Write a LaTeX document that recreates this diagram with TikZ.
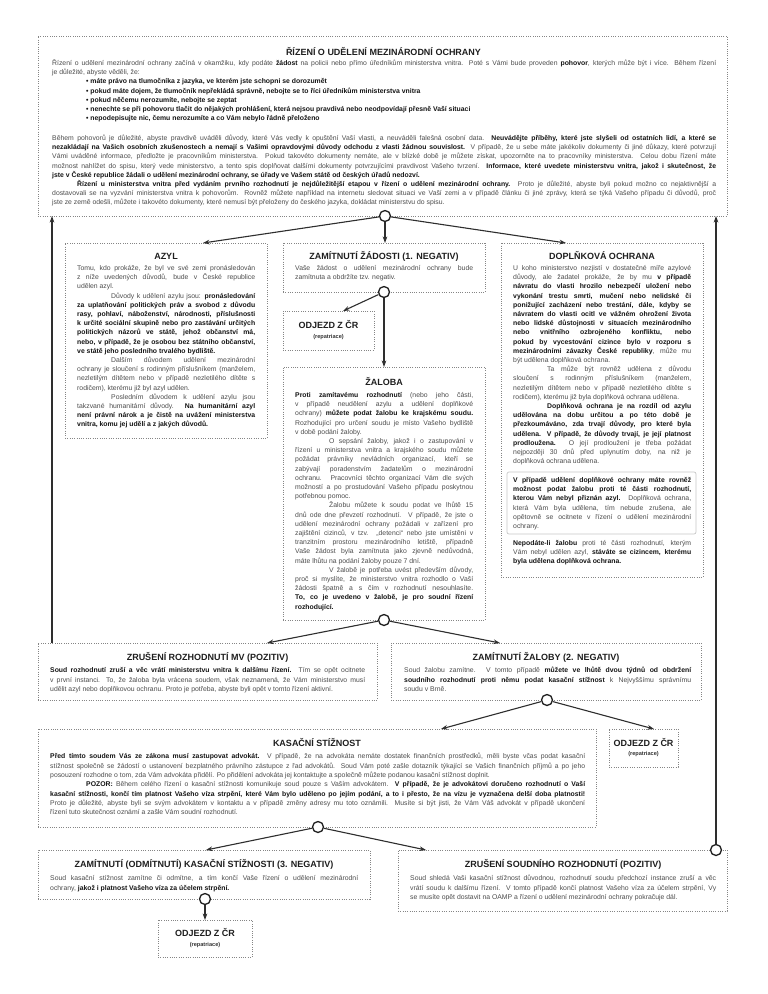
\documentclass[tikz,border=0pt]{standalone}
\usepackage{fontspec}
\setmainfont{Liberation Sans}
\usepackage{graphicx}
\usetikzlibrary{arrows.meta}
\newsavebox\jlbox
\newcommand\JL[1]{\sbox\jlbox{#1}\ifdim\wd\jlbox>\linewidth\noindent\resizebox{\linewidth}{\height}{\usebox\jlbox}\else\noindent\makebox[\linewidth][s]{#1}\fi\par}
\newcommand\LL[1]{\sbox\jlbox{#1}\ifdim\wd\jlbox>\linewidth\noindent\resizebox{\linewidth}{\height}{\usebox\jlbox}\else\noindent\usebox\jlbox\fi\par}
\newcommand\B[1]{{\bfseries\color{black!92}#1}}
\newcommand\IN{\hspace*{34pt}}
\newcommand\bodyfont{\fontsize{6.85}{9.2}\selectfont}
\newcommand\blk[2]{\parbox[t]{#1}{\bodyfont\setlength\parskip{0pt}\setlength\parindent{0pt}#2}}
\newcommand\blkn[2]{\parbox[t]{#1}{\fontsize{6.85}{9.3}\selectfont\setlength\parskip{0pt}\setlength\parindent{0pt}#2}}
\tikzset{
  dbox/.style={draw=black!48, dash pattern=on 0.9pt off 1.4pt, line width=0.9pt, rectangle, inner sep=0pt},
  ttl/.style={font=\fontsize{9}{10}\selectfont\bfseries, text=black!88, inner sep=0pt, anchor=base},
  rep/.style={font=\fontsize{5.6}{6}\selectfont\bfseries, text=black!80, inner sep=0pt, anchor=base},
  txt/.style={inner sep=0pt, anchor=base west, text=black!70},
  dot/.style={circle, draw=black!88, fill=white, line width=1.3pt, minimum size=11pt, inner sep=0pt},
  arr/.style={draw=black!82, line width=1.1pt, -{Stealth[length=6.5pt,width=4.6pt]}},
}
\begin{document}
\begin{tikzpicture}[x=1pt,y=-1pt]
\useasboundingbox (0,0) rectangle (768,994);
\fill[white] (0,0) rectangle (768,994);

% ---------- boxes ----------
\node[dbox, minimum width=689pt, minimum height=180pt] (top) at (382.5,126) {};
\node[dbox, minimum width=202pt, minimum height=195pt] (azyl) at (166,340.5) {};
\node[dbox, minimum width=202pt, minimum height=49pt] (zam1) at (384,267.5) {};
\node[dbox, minimum width=91pt, minimum height=39pt] (odj1) at (328.5,330.5) {};
\node[dbox, minimum width=202pt, minimum height=253pt] (zaloba) at (384,493.5) {};
\node[dbox, minimum width=202pt, minimum height=334pt] (dopl) at (602,410) {};
\node[draw=black!22, line width=0.7pt, rounded corners=2pt, minimum width=189pt, minimum height=62pt, inner sep=0pt] (inner) at (601.5,503) {};
\node[dbox, minimum width=339pt, minimum height=57pt] (zrusmv) at (207.5,671.5) {};
\node[dbox, minimum width=310pt, minimum height=57pt] (zam2) at (546,671.5) {};
\node[dbox, minimum width=558pt, minimum height=98pt] (kas) at (317,778) {};
\node[dbox, minimum width=69pt, minimum height=38pt] (odj2) at (643.5,748) {};
\node[dbox, minimum width=332pt, minimum height=49pt] (zam3) at (204,874.5) {};
\node[dbox, minimum width=329pt, minimum height=61pt] (zruss) at (562.5,880.5) {};
\node[dbox, minimum width=94pt, minimum height=37pt] (odj3) at (205,938.5) {};

% ---------- top box ----------
\node[ttl] (topT) at (383.5,55.2) {ŘÍZENÍ O UDĚLENÍ MEZINÁRODNÍ OCHRANY};
\node[txt] (topP1) at (52,65.5) {\blk{664pt}{%
\JL{Řízení o udělení mezinárodní ochrany začíná v okamžiku, kdy podáte \B{žádost} na policii nebo přímo úředníkům ministerstva vnitra. Poté s Vámi bude proveden \B{pohovor}, kterých může být i více. Během řízení}
\LL{je důležité, abyste věděli, že:}
\LL{\hspace*{34pt}\B{• máte právo na tlumočníka z jazyka, ve kterém jste schopni se dorozumět}}
\LL{\hspace*{34pt}\B{• pokud máte dojem, že tlumočník nepřekládá správně, nebojte se to říci úředníkům ministerstva vnitra}}
\LL{\hspace*{34pt}\B{• pokud něčemu nerozumíte, nebojte se zeptat}}
\LL{\hspace*{34pt}\B{• nenechte se při pohovoru tlačit do nějakých prohlášení, která nejsou pravdivá nebo neodpovídají přesně Vaší situaci}}
\LL{\hspace*{34pt}\B{• nepodepisujte nic, čemu nerozumíte a co Vám nebylo řádně přeloženo}}
}};
\node[txt] (topP2) at (52,140.5) {\blk{664pt}{%
\JL{Během pohovorů je důležité, abyste pravdivě uváděli důvody, které Vás vedly k opuštění Vaší vlasti, a neuváděli falešná osobní data. \B{Neuvádějte příběhy, které jste slyšeli od ostatních lidí, a které se}}
\JL{\B{nezakládají na Vašich osobních zkušenostech a nemají s Vašimi opravdovými důvody odchodu z vlasti žádnou souvislost.} V případě, že u sebe máte jakékoliv dokumenty či jiné důkazy, které potvrzují}
\JL{Vámi uváděné informace, předložte je pracovníkům ministerstva. Pokud takovéto dokumenty nemáte, ale v blízké době je můžete získat, upozorněte na to pracovníky ministerstva. Celou dobu řízení máte}
\JL{možnost nahlížet do spisu, který vede ministerstvo, a tento spis doplňovat dalšími dokumenty potvrzujícími pravdivost Vašeho tvrzení. \B{Informace, které uvedete ministerstvu vnitra, jakož i skutečnost, že}}
\LL{\B{jste v České republice žádali o udělení mezinárodní ochrany, se úřady ve Vašem státě od českých úřadů nedozví.}}
\JL{\hspace*{25pt}\B{Řízení u ministerstva vnitra před vydáním prvního rozhodnutí je nejdůležitější etapou v řízení o udělení mezinárodní ochrany.} Proto je důležité, abyste byli pokud možno co nejaktivnější a}
\JL{dostavovali se na vyzvání ministerstva vnitra k pohovorům. Rovněž můžete například na internetu sledovat situaci ve Vaší zemi a v případě článku či jiné zprávy, která se týká Vašeho případu či důvodů, proč}
\LL{jste ze země odešli, můžete i takovéto dokumenty, které nemusí být přeloženy do českého jazyka, dokládat ministerstvu do spisu.}
}};

% ---------- AZYL ----------
\node[ttl] (azylT) at (166,259.2) {AZYL};
\node[txt] (azylP) at (77,270.5) {\blk{178pt}{%
\JL{Tomu, kdo prokáže, že byl ve své zemi pronásledován}
\JL{z níže uvedených důvodů, bude v České republice}
\LL{udělen azyl.}
\JL{\IN Důvody k udělení azylu jsou: \B{pronásledování}}
\JL{\B{za uplatňování politických práv a svobod z důvodu}}
\JL{\B{rasy, pohlaví, náboženství, národnosti, příslušnosti}}
\JL{\B{k určité sociální skupině nebo pro zastávání určitých}}
\JL{\B{politických názorů ve státě, jehož občanství má,}}
\JL{\B{nebo, v případě, že je osobou bez státního občanství,}}
\LL{\B{ve státě jeho posledního trvalého bydliště.}}
\JL{\IN Dalším důvodem udělení mezinárodní}
\JL{ochrany je sloučení s rodinným příslušníkem (manželem,}
\JL{nezletilým dítětem nebo v případě nezletilého dítěte s}
\LL{rodičem), kterému již byl azyl udělen.}
\JL{\IN Posledním důvodem k udělení azylu jsou}
\JL{takzvané humanitární důvody. \B{Na humanitární azyl}}
\JL{\B{není právní nárok a je čistě na uvážení ministerstva}}
\LL{\B{vnitra, komu jej udělí a z jakých důvodů.}}
}};

% ---------- ZAMITNUTI ZADOSTI ----------
\node[ttl] (zam1T) at (384,259.2) {ZAMÍTNUTÍ ŽÁDOSTI (1. NEGATIV)};
\node[txt] (zam1P) at (295,270.5) {\blk{178pt}{%
\JL{Vaše žádost o udělení mezinárodní ochrany bude}
\LL{zamítnuta a obdržíte tzv. negativ.}
}};

% ---------- ODJEZD 1 ----------
\node[ttl] (odj1T) at (328.5,328.2) {ODJEZD Z ČR};
\node[rep] (odj1R) at (328.5,338.5) {(repatriace)};

% ---------- ZALOBA ----------
\node[ttl] (zalT) at (384,385.2) {ŽALOBA};
\node[txt] (zalP) at (295,397.5) {\blk{178pt}{%
\JL{\B{Proti zamítavému rozhodnutí} (nebo jeho části,}
\JL{v případě neudělení azylu a udělení doplňkové}
\JL{ochrany) \B{můžete podat žalobu ke krajskému soudu.}}
\JL{Rozhodující pro určení soudu je místo Vašeho bydliště}
\LL{v době podání žaloby.}
\JL{\IN O sepsání žaloby, jakož i o zastupování v}
\JL{řízení u ministerstva vnitra a krajského soudu můžete}
\JL{požádat právníky nevládních organizací, kteří se}
\JL{zabývají poradenstvím žadatelům o mezinárodní}
\JL{ochranu. Pracovníci těchto organizací Vám dle svých}
\JL{možností a po prostudování Vašeho případu poskytnou}
\LL{potřebnou pomoc.}
\JL{\IN Žalobu můžete k soudu podat ve lhůtě 15}
\JL{dnů ode dne převzetí rozhodnutí. V případě, že jste o}
\JL{udělení mezinárodní ochrany požádali v zařízení pro}
\JL{zajištění cizinců, v tzv. „detenci“ nebo jste umístěni v}
\JL{tranzitním prostoru mezinárodního letiště, případně}
\JL{Vaše žádost byla zamítnuta jako zjevně nedůvodná,}
\LL{máte lhůtu na podání žaloby pouze 7 dní.}
\JL{\IN V žalobě je potřeba uvést především důvody,}
\JL{proč si myslíte, že ministerstvo vnitra rozhodlo o Vaší}
\JL{žádosti špatně a s čím v rozhodnutí nesouhlasíte.}
\JL{\B{To, co je uvedeno v žalobě, je pro soudní řízení}}
\LL{\B{rozhodující.}}
}};

% ---------- DOPLNKOVA OCHRANA ----------
\node[ttl] (doplT) at (602,259.2) {DOPLŇKOVÁ OCHRANA};
\node[txt] (doplP) at (513,270.5) {\blk{178pt}{%
\JL{U koho ministerstvo nezjistí v dostatečné míře azylové}
\JL{důvody, ale žadatel prokáže, že by mu \B{v případě}}
\JL{\B{návratu do vlasti hrozilo nebezpečí uložení nebo}}
\JL{\B{vykonání trestu smrti, mučení nebo nelidské či}}
\JL{\B{ponižující zacházení nebo trestání, dále, kdyby se}}
\JL{\B{návratem do vlasti ocitl ve vážném ohrožení života}}
\JL{\B{nebo lidské důstojnosti v situacích mezinárodního}}
\JL{\B{nebo vnitřního ozbrojeného konfliktu, nebo}}
\JL{\B{pokud by vycestování cizince bylo v rozporu s}}
\JL{\B{mezinárodními závazky České republiky}, může mu}
\LL{být udělena doplňková ochrana.}
\JL{\IN Ta může být rovněž udělena z důvodu}
\JL{sloučení s rodinným příslušníkem (manželem,}
\JL{nezletilým dítětem nebo v případě nezletilého dítěte s}
\LL{rodičem), kterému již byla doplňková ochrana udělena.}
\JL{\IN\B{Doplňková ochrana je na rozdíl od azylu}}
\JL{\B{udělována na dobu určitou a po této době je}}
\JL{\B{přezkoumáváno, zda trvají důvody, pro které byla}}
\JL{\B{udělena. V případě, že důvody trvají, je její platnost}}
\JL{\B{prodloužena.} O její prodloužení je třeba požádat}
\JL{nejpozději 30 dnů před uplynutím doby, na niž je}
\LL{doplňková ochrana udělena.}
}};
\node[txt] (innerP) at (513,482.5) {\blk{178pt}{%
\JL{\B{V případě udělení doplňkové ochrany máte rovněž}}
\JL{\B{možnost podat žalobu proti té části rozhodnutí,}}
\JL{\B{kterou Vám nebyl přiznán azyl.} Doplňková ochrana,}
\JL{která Vám byla udělena, tím nebude zrušena, ale}
\JL{opětovně se ocitnete v řízení o udělení mezinárodní}
\LL{ochrany.}
}};
\node[txt] (doplQ) at (513,545.5) {\blk{178pt}{%
\JL{\B{Nepodáte-li žalobu} proti té části rozhodnutí, kterým}
\JL{Vám nebyl udělen azyl, \B{stáváte se cizincem, kterému}}
\LL{\B{byla udělena doplňková ochrana.}}
}};

% ---------- ZRUSENI ROZHODNUTI MV ----------
\node[ttl] (zrusmvT) at (207.5,660.2) {ZRUŠENÍ ROZHODNUTÍ MV (POZITIV)};
\node[txt] (zrusmvP) at (50,672.8) {\blkn{315pt}{%
\JL{\B{Soud rozhodnutí zruší a věc vrátí ministerstvu vnitra k dalšímu řízení.} Tím se opět ocitnete}
\JL{v první instanci. To, že žaloba byla vrácena soudem, však neznamená, že Vám ministerstvo musí}
\LL{udělit azyl nebo doplňkovou ochranu. Proto je potřeba, abyste byli opět v tomto řízení aktivní.}
}};

% ---------- ZAMITNUTI ZALOBY ----------
\node[ttl] (zam2T) at (546,660.2) {ZAMÍTNUTÍ ŽALOBY (2. NEGATIV)};
\node[txt] (zam2P) at (404,672.8) {\blkn{287pt}{%
\JL{Soud žalobu zamítne. V tomto případě \B{můžete ve lhůtě dvou týdnů od obdržení}}
\JL{\B{soudního rozhodnutí proti němu podat kasační stížnost} k Nejvyššímu správnímu}
\LL{soudu v Brně.}
}};

% ---------- KASACNI STIZNOST ----------
\node[ttl] (kasT) at (317,746.2) {KASAČNÍ STÍŽNOST};
\node[txt] (kasP) at (50,758.8) {\blkn{535pt}{%
\JL{\B{Před tímto soudem Vás ze zákona musí zastupovat advokát.} V případě, že na advokáta nemáte dostatek finančních prostředků, měli byste včas podat kasační}
\JL{stížnost společně se žádostí o ustanovení bezplatného právního zástupce z řad advokátů. Soud Vám poté zašle dotazník týkající se Vašich finančních příjmů a po jeho}
\LL{posouzení rozhodne o tom, zda Vám advokáta přidělí. Po přidělení advokáta jej kontaktujte a společně můžete podanou kasační stížnost doplnit.}
\JL{\hspace*{36pt}\B{POZOR:} Během celého řízení o kasační stížnosti komunikuje soud pouze s Vaším advokátem. \B{V případě, že je advokátovi doručeno rozhodnutí o Vaší}}
\JL{\B{kasační stížnosti, končí tím platnost Vašeho víza strpění, které Vám bylo uděleno po jejím podání, a to i přesto, že na vízu je vyznačena delší doba platnosti!}}
\JL{Proto je důležité, abyste byli se svým advokátem v kontaktu a v případě změny adresy mu toto oznámili. Musíte si být jisti, že Vám Váš advokát v případě ukončení}
\LL{řízení tuto skutečnost oznámí a zašle Vám soudní rozhodnutí.}
}};

% ---------- ODJEZD 2 ----------
\node[ttl] (odj2T) at (643.5,746.2) {ODJEZD Z ČR};
\node[rep] (odj2R) at (643.5,755.5) {(repatriace)};

% ---------- ZAMITNUTI KASACNI STIZNOSTI ----------
\node[ttl] (zam3T) at (204,867.2) {ZAMÍTNUTÍ (ODMÍTNUTÍ) KASAČNÍ STÍŽNOSTI (3. NEGATIV)};
\node[txt] (zam3P) at (50,880.8) {\blkn{308pt}{%
\JL{Soud kasační stížnost zamítne či odmítne, a tím končí Vaše řízení o udělení mezinárodní}
\LL{ochrany, \B{jakož i platnost Vašeho víza za účelem strpění.}}
}};

% ---------- ZRUSENI SOUDNIHO ROZHODNUTI ----------
\node[ttl] (zrussT) at (563,867.2) {ZRUŠENÍ SOUDNÍHO ROZHODNUTÍ (POZITIV)};
\node[txt] (zrussP) at (410,880.8) {\blkn{306pt}{%
\JL{Soud shledá Vaši kasační stížnost důvodnou, rozhodnutí soudu předchozí instance zruší a věc}
\JL{vrátí soudu k dalšímu řízení. V tomto případě končí platnost Vašeho víza za účelem strpění, Vy}
\LL{se musíte opět dostavit na OAMP a řízení o udělení mezinárodní ochrany pokračuje dál.}
}};

% ---------- ODJEZD 3 ----------
\node[ttl] (odj3T) at (205,936.2) {ODJEZD Z ČR};
\node[rep] (odj3R) at (205,946) {(repatriace)};

% ---------- junction circles ----------
\node[dot] (c0) at (385,216) {};
\node[dot] (c1) at (384,292) {};
\node[dot] (c2) at (384,620) {};
\node[dot] (c3) at (547,700) {};
\node[dot] (c4) at (318,827) {};
\node[dot] (c5) at (205,899) {};
\node[dot] (c6) at (716,850) {};

% ---------- connector end points ----------
\coordinate (azylIn) at (203,243);
\coordinate (doplIn) at (566,243);
\coordinate (zam1In) at (385,243);
\coordinate (odj1In) at (343,311);
\coordinate (zalIn) at (384,367);
\coordinate (mvIn) at (267,643);
\coordinate (zam2In) at (500,643);
\coordinate (kasIn) at (441,729);
\coordinate (odj2In) at (654,729);
\coordinate (zam3In) at (206,850);
\coordinate (zrussIn) at (426,850);
\coordinate (odj3In) at (205,920);
\coordinate (topInR) at (716,216);
\coordinate (topInL) at (52,216);
\coordinate (mvOut) at (52,643);

% ---------- connectors ----------
\draw[arr] (c0) -- (azylIn);
\draw[arr] (c0) -- (doplIn);
\draw[arr] (c0) -- (zam1In);
\draw[arr] (c1) -- (odj1In);
\draw[arr] (c1) -- (zalIn);
\draw[arr] (c2) -- (mvIn);
\draw[arr] (c2) -- (zam2In);
\draw[arr] (c3) -- (kasIn);
\draw[arr] (c3) -- (odj2In);
\draw[arr] (c4) -- (zam3In);
\draw[arr] (c4) -- (zrussIn);
\draw[arr] (c5) -- (odj3In);
\draw[arr] (c6) -- (topInR);
\draw[arr] (mvOut) -- (topInL);
\end{tikzpicture}
\end{document}
